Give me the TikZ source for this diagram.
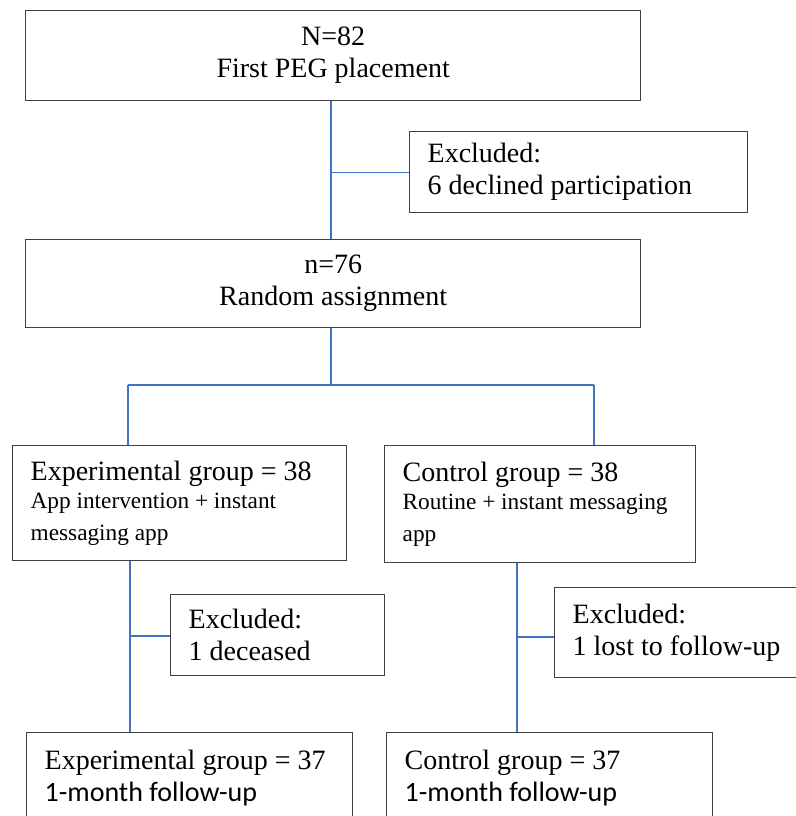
\documentclass[tikz,border=0pt]{standalone}
\usepackage{fontspec}
\setmainfont{Liberation Serif}
\newfontfamily\calibrifont{Carlito}
\usepackage{tikz}
\usetikzlibrary{positioning,calc}
\definecolor{linkblue}{HTML}{4472C4}
\definecolor{boxgray}{HTML}{404040}
\newcommand{\bigsz}{\fontsize{28}{32}\selectfont}
\newcommand{\smallsz}{\fontsize{23.3}{27.5}\selectfont}
\tikzset{
    box/.style={rectangle, draw=boxgray, line width=1.3pt, anchor=north west,
        inner xsep=18pt, inner ysep=0pt, align=flush left, font=\bigsz},
    link/.style={draw=linkblue, line width=1.1pt}
}

\begin{document}
\begin{tikzpicture}[x=1pt,y=-1pt]
    \useasboundingbox (0,0) rectangle (795,816);

    \node[box, align=center, minimum width=615pt, minimum height=90pt] (first) at (25,10) {N=82\\First PEG placement};
    \node[box, text width=302pt, minimum height=81pt] (excl1) at (409,131) {Excluded:\\6 declined participation};
    \node[box, align=center, minimum width=615pt, minimum height=88pt] (rand) at (25,239) {n=76\\Random assignment};

    \node[box, text width=298pt, minimum height=115pt] (exp) at (12,445) {Experimental group = 38\\\smallsz App intervention + instant\\messaging app};
    \node[box, text width=275pt, minimum height=117pt] (ctl) at (384,445) {Control group = 38\\\smallsz Routine + instant messaging\\app};

    \node[box, text width=178pt, minimum height=81pt] (excl2) at (170,594) {Excluded:\\1 deceased};
    \node[box, text width=224pt, minimum height=90pt] (excl3) at (554,587) {Excluded:\\1 lost to follow-up};

    \node[box, text width=290pt, minimum height=90pt] (exp2) at (26,732) {Experimental group = 37\\{\calibrifont 1-month follow-up}};
    \node[box, text width=290pt, minimum height=90pt] (ctl2) at (386,732) {Control group = 37\\{\calibrifont 1-month follow-up}};

    \coordinate (ml) at (331,385);
    \coordinate (sl) at (128,385);
    \coordinate (sr) at (594,385);
    \coordinate (el) at (130,636);
    \coordinate (cl) at (517,637);

    \path[link] (first.south -| ml) edge (rand.north -| ml)
        (excl1.west -| ml) edge (excl1.west);
    \path[link] (rand.south -| ml) edge (ml)
        (sl) edge (sr)
        (sl) edge (sl |- exp.north)
        (sr) edge (sr |- ctl.north);
    \path[link] (exp.south -| el) edge (exp2.north -| el)
        (el) edge (el -| excl2.west);
    \path[link] (ctl.south -| cl) edge (ctl2.north -| cl)
        (cl) edge (cl -| excl3.west);

\end{tikzpicture}
\end{document}
